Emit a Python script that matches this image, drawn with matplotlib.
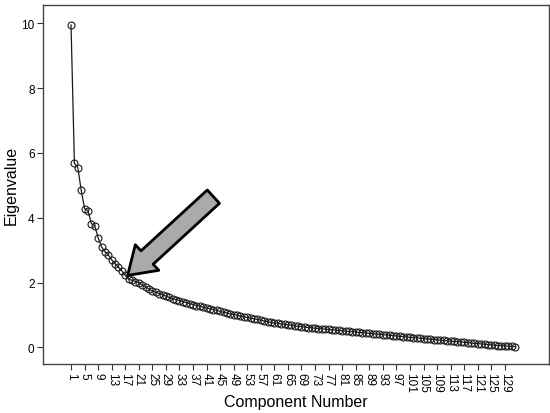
import matplotlib
matplotlib.use("Agg")
import matplotlib.pyplot as plt

plt.rcParams['font.family'] = ['Liberation Sans', 'DejaVu Sans']

# Scree plot data: eigenvalue for each component
eigenvalues = [
    9.95, 5.68, 5.55, 4.85, 4.28, 4.22, 3.82, 3.75, 3.38, 3.10,
    2.95, 2.85, 2.70, 2.58, 2.47, 2.36, 2.22, 2.10, 2.07, 2.03,
    1.99, 1.93, 1.87, 1.80, 1.73, 1.70, 1.66, 1.62, 1.58, 1.54,
    1.50, 1.47, 1.44, 1.41, 1.38, 1.35, 1.32, 1.29, 1.27, 1.24,
    1.21, 1.19, 1.16, 1.14, 1.11, 1.08, 1.06, 1.03, 1.01, 0.99,
    0.96, 0.94, 0.92, 0.90, 0.88, 0.86, 0.84, 0.81, 0.79, 0.77,
    0.75, 0.74, 0.72, 0.71, 0.69, 0.68, 0.66, 0.65, 0.64, 0.62,
    0.61, 0.60, 0.59, 0.58, 0.57, 0.56, 0.55, 0.54, 0.53, 0.52,
    0.51, 0.50, 0.49, 0.48, 0.47, 0.46, 0.45, 0.44, 0.43, 0.42,
    0.41, 0.40, 0.39, 0.38, 0.37, 0.36, 0.35, 0.34, 0.33, 0.32,
    0.31, 0.30, 0.29, 0.28, 0.27, 0.26, 0.25, 0.24, 0.23, 0.22,
    0.21, 0.20, 0.19, 0.18, 0.175, 0.165, 0.155, 0.145, 0.135, 0.125,
    0.115, 0.105, 0.095, 0.085, 0.075, 0.065, 0.055, 0.05, 0.04, 0.035,
    0.03, 0.02,
]
components = list(range(1, len(eigenvalues) + 1))
x_ticks = list(range(1, 130, 4))
y_ticks = [0, 2, 4, 6, 8, 10]
elbow_component = 18

fig = plt.figure(figsize=(5.5, 4.14), dpi=100)
ax = fig.add_axes([0.078, 0.118, 0.92, 0.867])

ax.plot(components, eigenvalues, color='#1a1a1a', linewidth=0.9,
        marker='o', markersize=5, markerfacecolor='none',
        markeredgecolor='#1a1a1a', markeredgewidth=0.8)

ax.set_xlim(-7.3, 142)
ax.set_ylim(-0.52, 10.56)
ax.set_xticks(x_ticks)
ax.set_xticklabels([str(t) for t in x_ticks], rotation=270, fontsize=8.5)
ax.set_yticks(y_ticks)
ax.set_yticklabels([str(t) for t in y_ticks], fontsize=8.5)
ax.tick_params(direction='out', length=4, width=0.8, color='#333333', pad=2)

for s in ax.spines.values():
    s.set_color('#444444')
    s.set_linewidth(1.0)

ax.set_xlabel('Component Number', fontsize=11.5, labelpad=1)
ax.set_ylabel('Eigenvalue', fontsize=11.5, labelpad=2)

# Arrow pointing at the elbow
ax.annotate('', xy=(elbow_component - 0.3, eigenvalues[elbow_component - 1] + 0.12),
            xytext=(43, 4.65),
            arrowprops=dict(arrowstyle='simple,head_width=1.25,head_length=0.95,tail_width=0.65',
                            mutation_scale=20, facecolor='#aaaaaa',
                            edgecolor='black', linewidth=2, shrinkA=0, shrinkB=0))

fig.savefig('out.png', dpi=100)
